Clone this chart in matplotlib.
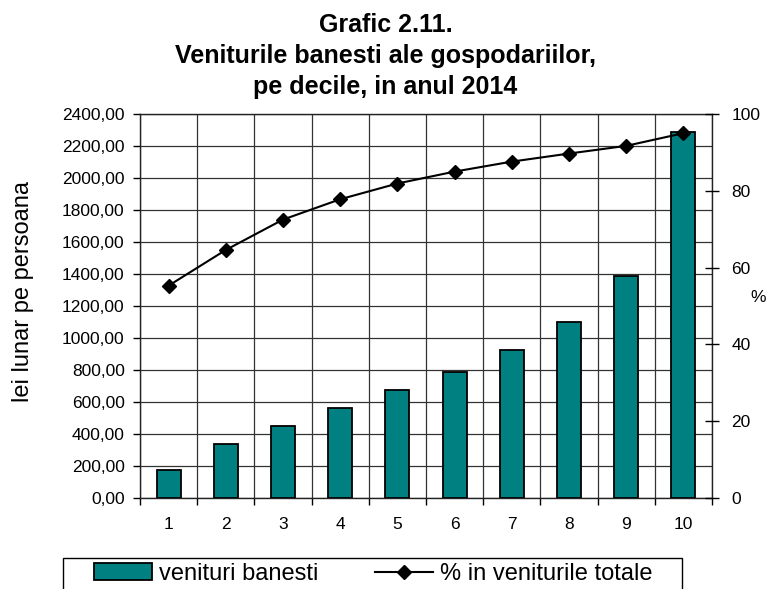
import matplotlib
matplotlib.use("Agg")
import matplotlib.pyplot as plt
from matplotlib.patches import Rectangle
from matplotlib.ticker import FuncFormatter, MultipleLocator

plt.rcParams['font.family'] = ['Liberation Sans', 'DejaVu Sans']

# decile data
decile = [1, 2, 3, 4, 5, 6, 7, 8, 9, 10]
venituri = [173, 336, 448, 561, 673, 786, 926, 1101, 1389, 2289]
procent = [55.3, 64.6, 72.5, 77.8, 81.9, 85.0, 87.6, 89.7, 91.7, 95.0]

W, H = 771, 589
fig = plt.figure(figsize=(W / 100, H / 100), dpi=100)
ax = fig.add_axes([140 / W, 1 - 498 / H, (712 - 140) / W, (498 - 114) / H])

bars = ax.bar(decile, venituri, width=0.42, color='#008080', edgecolor='black',
              linewidth=1.3, zorder=3)

ax.set_xlim(0.5, 10.5)
ax.set_ylim(0, 2400)
ax.yaxis.set_major_locator(MultipleLocator(200))
ax.yaxis.set_major_formatter(FuncFormatter(lambda v, p: f"{v:.2f}".replace('.', ',')))
ax.set_xticks(decile)
ax.set_xticks([x + 0.5 for x in range(0, 11)], minor=True)
ax.tick_params(axis='x', which='major', length=0, pad=14, labelsize=12.5)
ax.tick_params(axis='x', which='minor', length=5, width=1, direction='out')
ax.tick_params(axis='y', length=5, width=1, direction='out', labelsize=12.5, pad=6)
ax.grid(axis='y', which='major', color='#333333', linewidth=0.9, zorder=0)
ax.grid(axis='x', which='minor', color='#333333', linewidth=0.9, zorder=0)
ax.set_axisbelow(True)
for s in ax.spines.values():
    s.set_linewidth(1.0)
    s.set_color('#222222')

fig.text(23 / W, 1 - 292 / H, 'lei lunar pe persoana', rotation=90,
         ha='center', va='center', fontsize=17)

ax2 = ax.twinx()
line, = ax2.plot(decile, procent, color='black', linewidth=1.5, marker='D',
                 markersize=7.5, zorder=4)
ax2.set_ylim(0, 100)
ax2.set_yticks([0, 20, 40, 60, 80, 100])
ax2.tick_params(axis='y', length=10, width=1, direction='inout', labelsize=12.5, pad=9)
for s in ax2.spines.values():
    s.set_visible(False)
fig.text(750 / W, 1 - 298 / H, '%', ha='left', va='center', fontsize=12.5)

fig.text(0.5, 1 - 56 / H, 'Grafic 2.11.\nVeniturile banesti ale gospodariilor,\npe decile, in anul 2014',
         ha='center', va='center', fontsize=18, fontweight='bold', linespacing=1.36)

fig.legend([bars, line], ['venituri banesti', '% in veniturile totale'],
           loc='center left', bbox_to_anchor=(94 / W, 1 - 574 / H),
           ncol=2, fontsize=17, frameon=False, handlelength=2.45,
           handletextpad=0.3, columnspacing=2.4, borderpad=0, borderaxespad=0)
fig.add_artist(Rectangle((63 / W, -0.05), (682 - 63) / W, 0.05 + 1 - 558 / H,
                         transform=fig.transFigure, fill=False,
                         edgecolor='black', linewidth=1.0))

fig.savefig('out.png', dpi=100)
